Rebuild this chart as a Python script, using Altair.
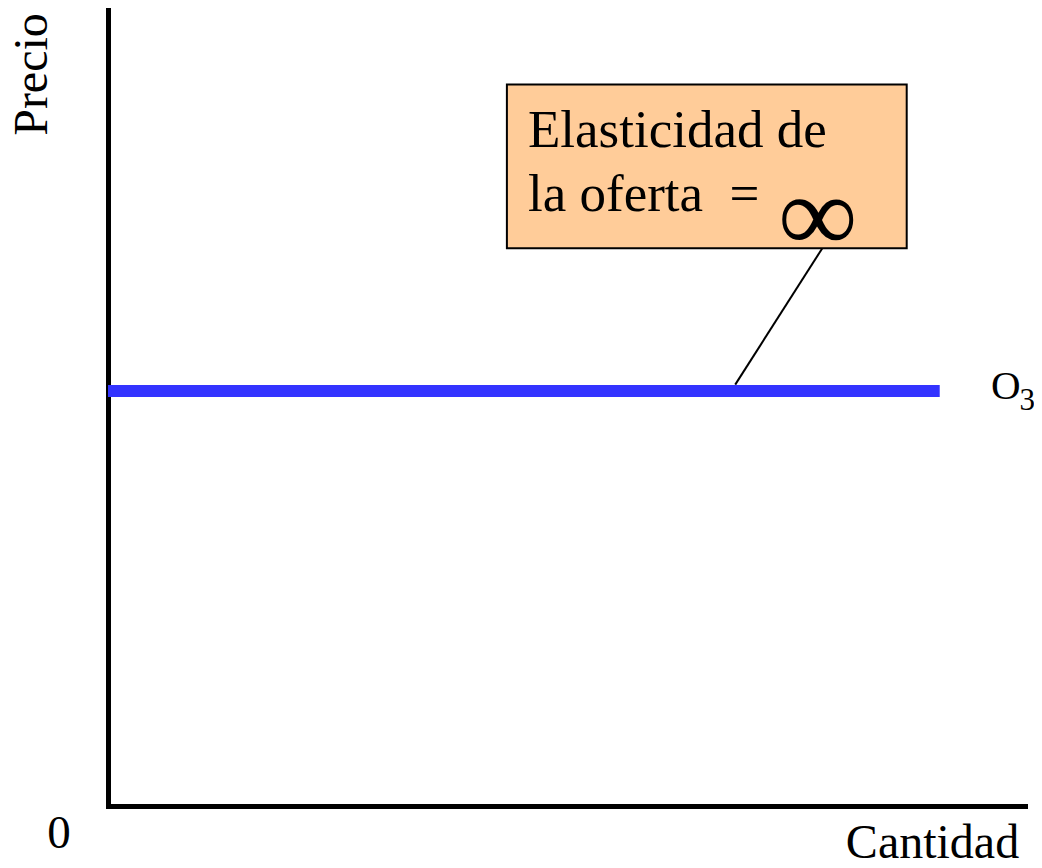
import altair as alt
import pandas as pd

# Supply curve O3 (perfectly elastic): constant price over quantity
supply_q = [0, 90.7]
supply_p = [52, 52]

# Annotation box (data units) and its connector
box_x = [43.5]
box_x2 = [87.1]
box_y = [90.4]
box_y2 = [69.9]
conn_q = [77.9, 68.4]
conn_p = [69.9, 52.8]

box_lines = ["Elasticidad de", "la oferta\u00a0\u00a0="]
box_line_q = [45.8, 45.8]
box_line_p = [82.6, 74.6]

FONT = "Liberation Serif"

supply = pd.DataFrame({"q": supply_q, "p": supply_p})
box = pd.DataFrame({"x": box_x, "x2": box_x2, "y": box_y, "y2": box_y2})
conn = pd.DataFrame({"q": conn_q, "p": conn_p})
lines = pd.DataFrame({"q": box_line_q, "p": box_line_p, "t": box_lines})
inf = pd.DataFrame({"q": [77.4], "p": [73.6], "t": ["\u221e"]})
o_lbl = pd.DataFrame({"q": [96.3], "p": [51.0], "t": ["O"]})
o_sub = pd.DataFrame({"q": [99.4], "p": [49.6], "t": ["3"]})
zero = pd.DataFrame({"q": [0], "p": [0], "t": ["0"]})

xs = alt.Scale(domain=[0, 100], nice=False)
ys = alt.Scale(domain=[0, 100], nice=False)

axis_common = dict(
    domain=True, domainColor="black", domainWidth=5, domainCap="square",
    ticks=False, labels=False, grid=False,
    titleFont=FONT, titleFontSize=48, titleFontWeight="normal", titleColor="black",
)

line = alt.Chart(supply).mark_line(color="#3333FF", strokeWidth=12, strokeCap="butt").encode(
    x=alt.X("q:Q", scale=xs, axis=alt.Axis(title="Cantidad", titleX=824, titleY=51,
                                           titleAlign="center", titleBaseline="alphabetic",
                                           **axis_common)),
    y=alt.Y("p:Q", scale=ys, axis=alt.Axis(title="Precio", titleX=-62, titleY=66,
                                           titleAngle=-90, titleAlign="center",
                                           titleBaseline="alphabetic", **axis_common)),
)

connector = alt.Chart(conn).mark_line(color="black", strokeWidth=2).encode(
    x=alt.X("q:Q", scale=xs), y=alt.Y("p:Q", scale=ys)
)

rect = alt.Chart(box).mark_rect(fill="#FFCC99", stroke="black", strokeWidth=2).encode(
    x=alt.X("x:Q", scale=xs), x2="x2:Q", y=alt.Y("y:Q", scale=ys), y2="y2:Q"
)

box_text = alt.Chart(lines).mark_text(font=FONT, fontSize=53, align="left",
                                      baseline="alphabetic", color="black").encode(
    x=alt.X("q:Q", scale=xs), y=alt.Y("p:Q", scale=ys), text="t:N"
)

inf_text = alt.Chart(inf).mark_text(font=FONT, fontSize=108, fontWeight="bold",
                                    align="center", baseline="middle", color="black").encode(
    x=alt.X("q:Q", scale=xs), y=alt.Y("p:Q", scale=ys), text="t:N"
)

o_text = alt.Chart(o_lbl).mark_text(font=FONT, fontSize=41, align="left",
                                    baseline="alphabetic", color="black").encode(
    x=alt.X("q:Q", scale=xs), y=alt.Y("p:Q", scale=ys), text="t:N"
)
o_sub_text = alt.Chart(o_sub).mark_text(font=FONT, fontSize=31, align="left",
                                        baseline="alphabetic", color="black").encode(
    x=alt.X("q:Q", scale=xs), y=alt.Y("p:Q", scale=ys), text="t:N"
)
zero_text = alt.Chart(zero).mark_text(font=FONT, fontSize=47, align="center",
                                      baseline="alphabetic", color="black",
                                      dx=-49, dy=42).encode(
    x=alt.X("q:Q", scale=xs), y=alt.Y("p:Q", scale=ys), text="t:N"
)

chart = alt.layer(
    connector, line, rect, box_text, inf_text, o_text, o_sub_text, zero_text
).properties(
    width=917, height=798,
    autosize=alt.AutoSizeParams(type="none"),
    padding={"left": 100, "top": 0, "right": 9, "bottom": 54},
).configure(background="white").configure_view(strokeWidth=0, stroke="transparent")

chart.save("out.html", embed_options={"renderer": "svg", "actions": False})
